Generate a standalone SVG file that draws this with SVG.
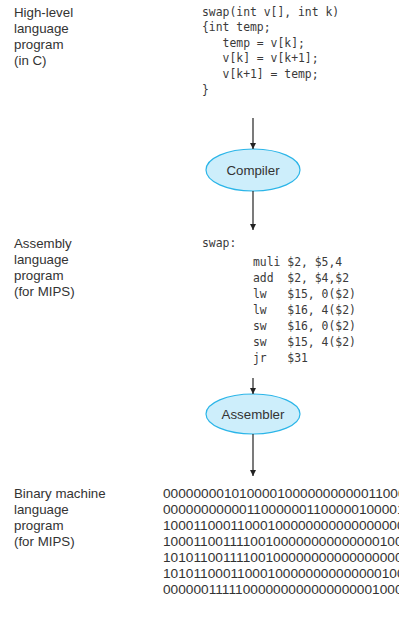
<svg xmlns="http://www.w3.org/2000/svg" width="399" height="631" viewBox="0 0 399 631">
  <defs>
    <marker id="arrow" viewBox="0 0 8 10" refX="8" refY="5" markerWidth="6" markerHeight="8" orient="auto" markerUnits="userSpaceOnUse">
      <path d="M0,1 L8,5 L0,9 Z" fill="#222"/>
    </marker>
    <style>
      .label { font-family: "Liberation Sans", Arial, sans-serif; font-size: 13.3px; fill: #333; }
      .code { font-family: "DejaVu Sans Mono", monospace; font-size: 11.4px; fill: #3a3a3a; white-space: pre; }
      .bin { font-family: "Liberation Sans", Arial, sans-serif; font-size: 13.7px; fill: #333; }
      .tool { fill: #cdeefb; stroke: #2bb5e8; stroke-width: 1.2; }
      .toolText { font-family: "Liberation Sans", Arial, sans-serif; font-size: 13.3px; fill: #333; text-anchor: middle; }
      .conn { stroke: #222; stroke-width: 1.2; fill: none; marker-end: url(#arrow); }
    </style>
  </defs>
  <rect width="399" height="631" fill="#fff"/>

  <!-- High-level source -->
  <g id="hll">
    <text class="label" x="14" y="17">High-level</text>
    <text class="label" x="14" y="33">language</text>
    <text class="label" x="14" y="49">program</text>
    <text class="label" x="14" y="65">(in C)</text>
    <text class="code" x="202" y="16" xml:space="preserve">swap(int v[], int k)</text>
    <text class="code" x="202" y="31" xml:space="preserve">{int temp;</text>
    <text class="code" x="202" y="47" xml:space="preserve">   temp = v[k];</text>
    <text class="code" x="202" y="62" xml:space="preserve">   v[k] = v[k+1];</text>
    <text class="code" x="202" y="78" xml:space="preserve">   v[k+1] = temp;</text>
    <text class="code" x="202" y="94" xml:space="preserve">}</text>
  </g>

  <!-- Compiler -->
  <g id="compiler">
    <ellipse class="tool" cx="253" cy="170" rx="47" ry="21"/>
    <text class="toolText" x="253" y="175">Compiler</text>
  </g>

  <!-- Assembly source -->
  <g id="asm">
    <text class="label" x="14" y="248">Assembly</text>
    <text class="label" x="14" y="264">language</text>
    <text class="label" x="14" y="280">program</text>
    <text class="label" x="14" y="296">(for MIPS)</text>
    <text class="code" x="202" y="247" xml:space="preserve">swap:</text>
    <text class="code" x="253" y="266" xml:space="preserve">muli $2, $5,4</text>
    <text class="code" x="253" y="282" xml:space="preserve">add  $2, $4,$2</text>
    <text class="code" x="253" y="298" xml:space="preserve">lw   $15, 0($2)</text>
    <text class="code" x="253" y="314" xml:space="preserve">lw   $16, 4($2)</text>
    <text class="code" x="253" y="330" xml:space="preserve">sw   $16, 0($2)</text>
    <text class="code" x="253" y="346" xml:space="preserve">sw   $15, 4($2)</text>
    <text class="code" x="253" y="362" xml:space="preserve">jr   $31</text>
  </g>

  <!-- Assembler -->
  <g id="assembler">
    <ellipse class="tool" cx="253" cy="414" rx="47" ry="20"/>
    <text class="toolText" x="253" y="419">Assembler</text>
  </g>

  <!-- Machine code -->
  <g id="binary">
    <text class="label" x="14" y="498">Binary machine</text>
    <text class="label" x="14" y="514">language</text>
    <text class="label" x="14" y="530">program</text>
    <text class="label" x="14" y="546">(for MIPS)</text>
    <text class="bin" x="163" y="498">00000000101000010000000000011000</text>
    <text class="bin" x="163" y="514">00000000000110000001100000100001</text>
    <text class="bin" x="163" y="530">10001100011000100000000000000000</text>
    <text class="bin" x="163" y="546">10001100111100100000000000000100</text>
    <text class="bin" x="163" y="562">10101100111100100000000000000000</text>
    <text class="bin" x="163" y="578">10101100011000100000000000000100</text>
    <text class="bin" x="163" y="594">00000011111000000000000000001000</text>
  </g>

  <!-- Connectors -->
  <g id="connectors">
    <line class="conn" x1="253" y1="118" x2="253" y2="149"/>
    <line class="conn" x1="253" y1="191" x2="253" y2="230"/>
    <line class="conn" x1="253" y1="378" x2="253" y2="394"/>
    <line class="conn" x1="253" y1="434" x2="253" y2="476"/>
  </g>
</svg>
